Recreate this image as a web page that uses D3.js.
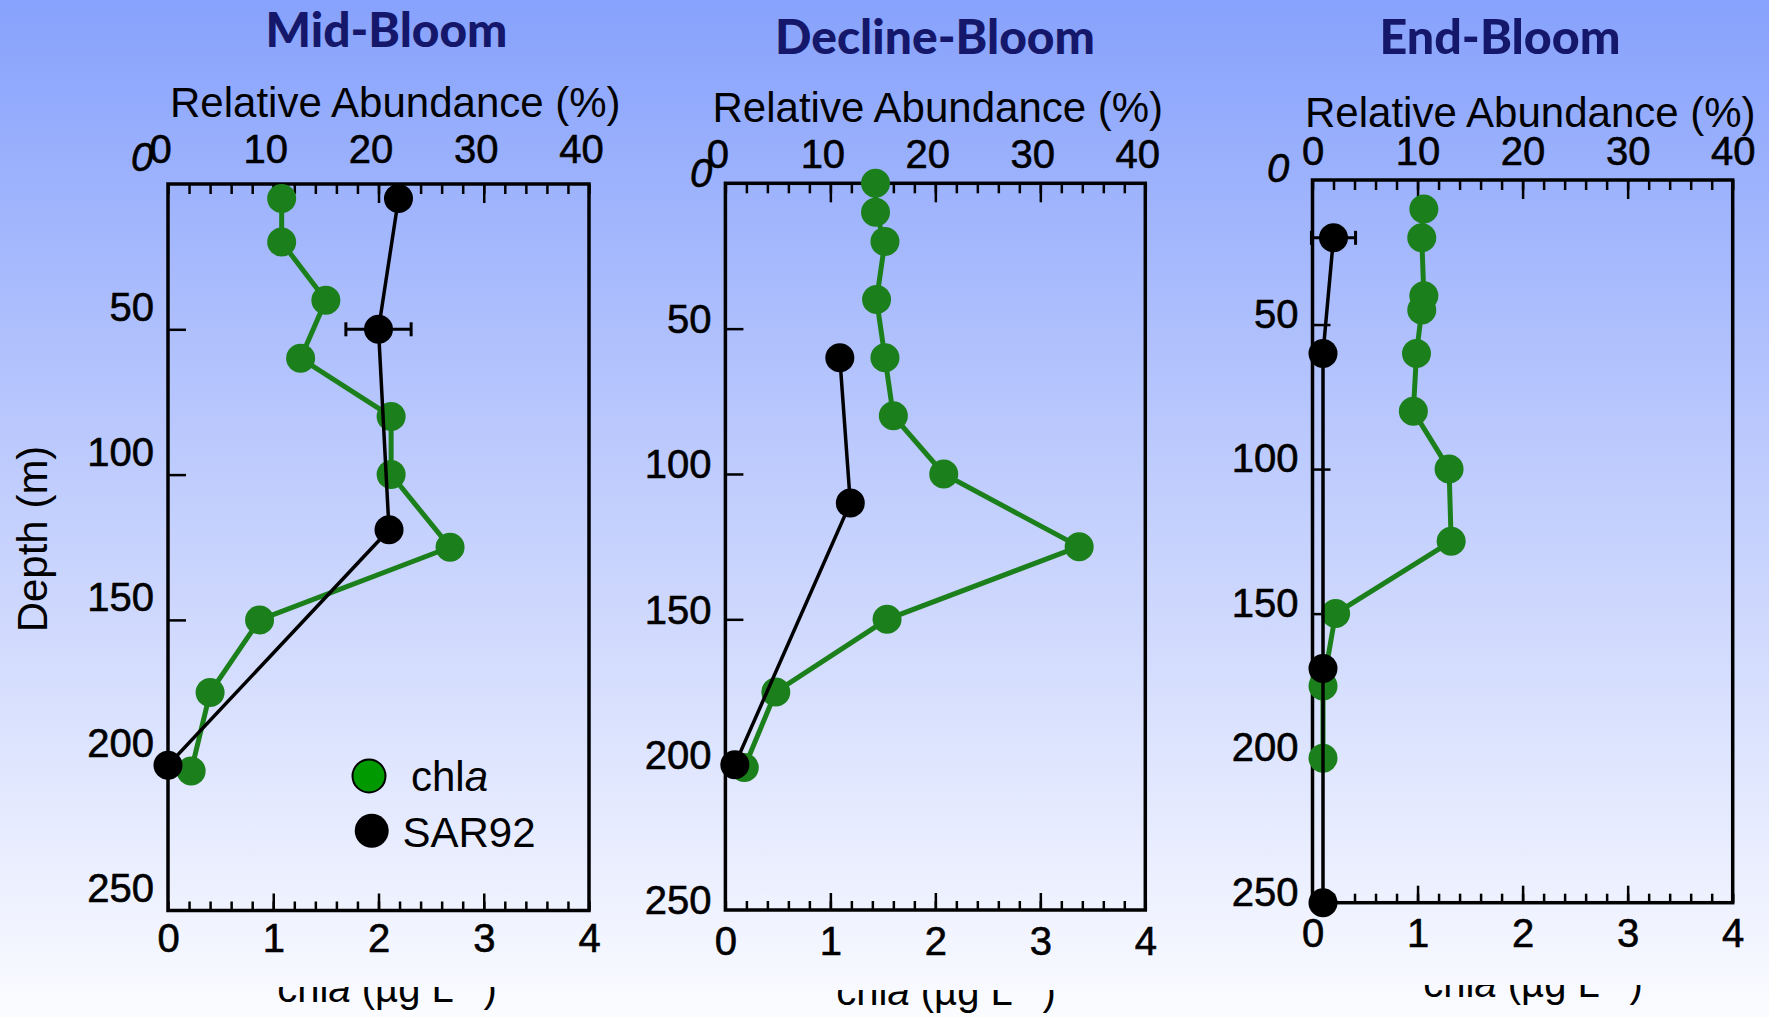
<!DOCTYPE html>
<html lang="en">
<head>
<meta charset="UTF-8">
<title>SAR92 and chl a depth profiles</title>
<script src="https://d3js.org/d3.v7.min.js"></script>
<style>
  html, body { margin: 0; padding: 0; overflow: hidden; }
  svg { display: block; }
</style>
</head>
<body>
<svg id="chart" width="1769" height="1017"></svg>
<script>
// tick labels
const depthTicks = [0, 50, 100, 150, 200, 250];
const abundanceTicks = [0, 10, 20, 30, 40];
const chlTicks = [0, 1, 2, 3, 4];
const titles = ["Mid-Bloom", "Decline-Bloom", "End-Bloom"];

// Mid-Bloom: chl a (ug/L) and SAR92 (% relative abundance) by depth (m)
const midChlDepth = [5, 20, 40, 60, 80, 100, 125, 150, 175, 202];
const midChl = [1.08, 1.08, 1.50, 1.26, 2.12, 2.12, 2.68, 0.87, 0.40, 0.22];
const midSarDepth = [5, 50, 119, 200];
const midSar = [21.9, 20.0, 21.0, 0];
const midSarErr = [0, 3.1, 0, 0];

// Decline-Bloom
const declineChlDepth = [0, 10, 20, 40, 60, 80, 100, 125, 150, 175, 201];
const declineChl = [1.43, 1.43, 1.52, 1.44, 1.52, 1.60, 2.08, 3.37, 1.54, 0.48, 0.18];
const declineSarDepth = [60, 110, 200];
const declineSar = [10.9, 11.9, 0.9];
const declineSarErr = [0, 0, 0];

// End-Bloom
const endChlDepth = [10, 20, 40, 45, 60, 80, 100, 125, 150, 175, 200];
const endChl = [1.06, 1.04, 1.06, 1.04, 0.99, 0.96, 1.30, 1.32, 0.22, 0.10, 0.10];
const endSarDepth = [20, 60, 169, 250];
const endSar = [2.0, 1.0, 1.0, 1.0];
const endSarErr = [2.1, 0, 0, 0];

const panels = [
    {chlDepth: midChlDepth, chl: midChl, sarDepth: midSarDepth, sar: midSar, sarErr: midSarErr},
    {chlDepth: declineChlDepth, chl: declineChl, sarDepth: declineSarDepth, sar: declineSar, sarErr: declineSarErr},
    {chlDepth: endChlDepth, chl: endChl, sarDepth: endSarDepth, sar: endSar, sarErr: endSarErr}
];

// where each panel sits on the page
const layout = [
    {left: 168, right: 589, top: 184, bottom: 910.5, titleX: 386.5, titleY: 47, titleLen: 242,
     relX: 170, relY: 117, topLabY: 163, topLabDx: -8, depthDy: -22, zeroX: 142, zeroY: 157,
     botLabY: 951.7, unitX: 387, unitY: 1002, unitClip: 987},
    {left: 725.4, right: 1145.3, top: 183.3, bottom: 910, titleX: 935, titleY: 54, titleLen: 320,
     relX: 712.5, relY: 122, topLabY: 168, topLabDx: -8, depthDy: -9, zeroX: 701, zeroY: 173,
     botLabY: 955, unitX: 946, unitY: 1005, unitClip: 990},
    {left: 1312.5, right: 1732.7, top: 180, bottom: 902.7, titleX: 1500, titleY: 54, titleLen: 241,
     relX: 1305, relY: 127, topLabY: 165, topLabDx: 0, depthDy: -10, zeroX: 1278, zeroY: 168,
     botLabY: 946.7, unitX: 1533, unitY: 997, unitClip: 985}
];

const W = 1769, H = 1017;
const FONT = "'Liberation Sans', Arial, Helvetica, sans-serif";
const GREEN = "#1b801b";

const svg = d3.select("#chart");
const defs = svg.append("defs");

// background gradient
const grad = defs.append("linearGradient").attr("id", "bg")
    .attr("x1", 0).attr("y1", 0).attr("x2", 0).attr("y2", 1);
grad.append("stop").attr("offset", "0%").attr("stop-color", "#87a2fc");
grad.append("stop").attr("offset", "50%").attr("stop-color", "#c3cffd");
grad.append("stop").attr("offset", "100%").attr("stop-color", "#fbfcff");
svg.append("rect").attr("width", W).attr("height", H).attr("fill", "url(#bg)");

function styleAxis(sel, size) {
    sel.select(".domain").remove();
    sel.attr("font-family", FONT).attr("font-size", size || 40);
    sel.selectAll("line").attr("stroke", "#000").attr("stroke-width", 2.5);
    sel.selectAll("text").attr("fill", "#000").attr("stroke", "#000").attr("stroke-width", 0.6);
}

panels.forEach((p, i) => {
    const L = layout[i];
    const x = d3.scaleLinear().domain([0, 40]).range([L.left, L.right]);
    const xc = d3.scaleLinear().domain([0, 4]).range([L.left, L.right]);
    const y = d3.scaleLinear().domain([0, 250]).range([L.top, L.bottom]);
    const g = svg.append("g");

    // title
    g.append("text")
        .attr("x", L.titleX).attr("y", L.titleY)
        .attr("text-anchor", "middle")
        .attr("font-family", "Lato, 'DejaVu Sans', sans-serif")
        .attr("font-weight", 900)
        .attr("font-size", 48)
        .attr("fill", "#15186a")
        .attr("textLength", L.titleLen)
        .attr("lengthAdjust", "spacingAndGlyphs")
        .text(titles[i]);

    // top axis title
    g.append("text")
        .attr("x", L.relX).attr("y", L.relY)
        .attr("font-family", FONT).attr("font-size", 42)
        .text("Relative Abundance (%)");

    // top axis: minor + major ticks, then labels
    g.append("g").attr("transform", `translate(0,${L.top})`)
        .call(d3.axisTop(x).tickValues(x.ticks(20)).tickSize(-10).tickSizeOuter(0).tickFormat(""))
        .call(styleAxis);
    g.append("g").attr("transform", `translate(0,${L.top})`)
        .call(d3.axisTop(x).tickValues(abundanceTicks.slice(1, -1)).tickSize(-19).tickSizeOuter(0).tickFormat(""))
        .call(styleAxis);
    g.append("g").attr("transform", `translate(${L.topLabDx},${L.topLabY})`)
        .call(d3.axisTop(x).tickValues(abundanceTicks).tickSize(0).tickPadding(0))
        .call(styleAxis)
        .selectAll("text").attr("dy", 0);

    // bottom axis (chl a)
    g.append("g").attr("transform", `translate(0,${L.bottom})`)
        .call(d3.axisBottom(xc).tickValues(xc.ticks(20)).tickSize(-9).tickSizeOuter(0).tickFormat(""))
        .call(styleAxis);
    g.append("g").attr("transform", `translate(0,${L.bottom})`)
        .call(d3.axisBottom(xc).tickValues(chlTicks.slice(1, -1)).tickSize(-17).tickSizeOuter(0).tickFormat(""))
        .call(styleAxis);
    g.append("g").attr("transform", `translate(0,${L.botLabY})`)
        .call(d3.axisBottom(xc).tickValues(chlTicks).tickSize(0).tickPadding(0).tickFormat(d3.format("d")))
        .call(styleAxis)
        .selectAll("text").attr("dy", 0);

    // left axis (depth)
    g.append("g").attr("transform", `translate(${L.left},0)`)
        .call(d3.axisLeft(y).tickValues(depthTicks.slice(1, -1)).tickSize(-18).tickSizeOuter(0).tickFormat(""))
        .call(styleAxis);
    g.append("g").attr("transform", `translate(${L.left},${L.depthDy})`)
        .call(d3.axisLeft(y).tickValues(depthTicks.slice(1)).tickSize(0).tickPadding(14))
        .call(styleAxis);
    g.append("text")
        .attr("x", L.zeroX).attr("y", L.zeroY).attr("dy", "0.35em")
        .attr("text-anchor", "middle")
        .attr("font-family", FONT).attr("font-size", 40).attr("font-style", "italic")
        .attr("stroke", "#000").attr("stroke-width", 0.6)
        .text(depthTicks[0]);

    // frame
    g.append("rect")
        .attr("x", L.left).attr("y", L.top)
        .attr("width", L.right - L.left).attr("height", L.bottom - L.top)
        .attr("fill", "none").attr("stroke", "#000").attr("stroke-width", 3.5);

    // bottom axis title, top part hidden like the original
    const clipId = "unitclip" + i;
    defs.append("clipPath").attr("id", clipId)
        .append("rect").attr("x", 0).attr("y", L.unitClip).attr("width", W).attr("height", H);
    const unit = g.append("text")
        .attr("x", L.unitX).attr("y", L.unitY)
        .attr("text-anchor", "middle")
        .attr("font-family", FONT).attr("font-size", 40)
        .attr("clip-path", `url(#${clipId})`);
    unit.append("tspan").text("chl");
    unit.append("tspan").attr("font-style", "italic").text("a");
    unit.append("tspan").text(" (\u00b5g L");
    unit.append("tspan").attr("font-size", 26).attr("dy", -15).text("\u22121");
    unit.append("tspan").attr("dy", 15).text(")");

    // chl a series
    const chlData = p.chlDepth.map((d, j) => ({depth: d, value: p.chl[j]}));
    g.append("path").datum(chlData)
        .attr("fill", "none").attr("stroke", GREEN).attr("stroke-width", 5)
        .attr("d", d3.line().x(d => xc(d.value)).y(d => y(d.depth)));
    g.selectAll(".chl").data(chlData).join("circle")
        .attr("class", "chl")
        .attr("cx", d => xc(d.value)).attr("cy", d => y(d.depth))
        .attr("r", 14.5).attr("fill", GREEN);

    // SAR92 series
    const sarData = p.sarDepth.map((d, j) => ({depth: d, value: p.sar[j], err: p.sarErr[j]}));
    g.append("path").datum(sarData)
        .attr("fill", "none").attr("stroke", "#000").attr("stroke-width", 3.5)
        .attr("d", d3.line().x(d => x(d.value)).y(d => y(d.depth)));
    const errs = sarData.filter(d => d.err > 0);
    errs.forEach(d => {
        const cy = y(d.depth);
        const x0 = x(d.value - d.err), x1 = x(d.value + d.err);
        g.append("line").attr("x1", x0).attr("x2", x1).attr("y1", cy).attr("y2", cy)
            .attr("stroke", "#000").attr("stroke-width", 3);
        [x0, x1].forEach(cx => g.append("line")
            .attr("x1", cx).attr("x2", cx).attr("y1", cy - 7).attr("y2", cy + 7)
            .attr("stroke", "#000").attr("stroke-width", 3));
    });
    g.selectAll(".sar").data(sarData).join("circle")
        .attr("class", "sar")
        .attr("cx", d => x(d.value)).attr("cy", d => y(d.depth))
        .attr("r", 14.5).attr("fill", "#000");

    // legend, first panel only
    if (i === 0) {
        const lg = g.append("g").attr("font-family", FONT).attr("font-size", 42);
        lg.append("circle").attr("cx", 369).attr("cy", 776).attr("r", 16.5)
            .attr("fill", "#009900").attr("stroke", "#000").attr("stroke-width", 2);
        lg.append("circle").attr("cx", 371.7).attr("cy", 830.7).attr("r", 17).attr("fill", "#000");
        const t1 = lg.append("text").attr("x", 411).attr("y", 791);
        t1.append("tspan").text("chl");
        t1.append("tspan").attr("font-style", "italic").text("a");
        lg.append("text").attr("x", 402.5).attr("y", 847).text("SAR92");
    }
});

// shared depth axis title
svg.append("text")
    .attr("transform", "translate(46.6,539) rotate(-90)")
    .attr("text-anchor", "middle")
    .attr("font-family", FONT).attr("font-size", 42)
    .text("Depth (m)");
</script>
</body>
</html>
